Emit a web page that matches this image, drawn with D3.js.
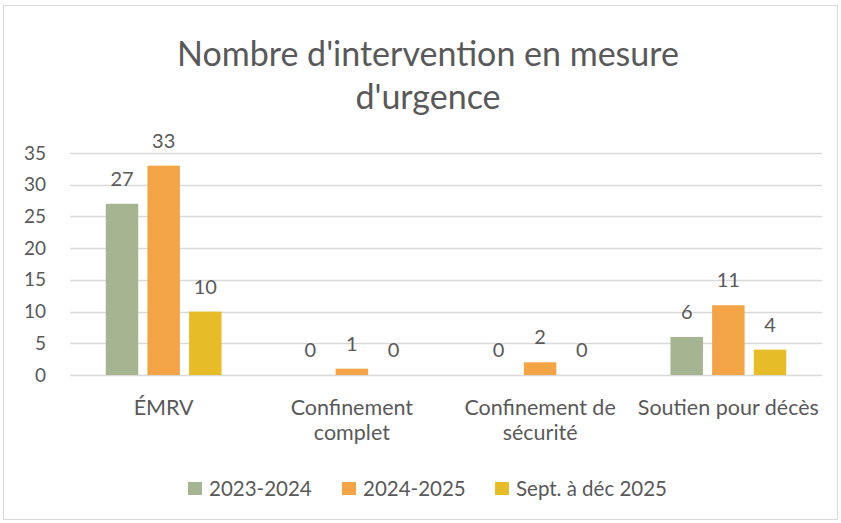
<!DOCTYPE html>
<html>
<head>
<meta charset="utf-8">
<script src="https://cdn.jsdelivr.net/npm/d3@7"></script>
<style>
  body { margin: 0; background: #fff; }
  text { font-family: Lato, "Open Sans", sans-serif; fill: #595959; }
</style>
</head>
<body>
<div id="chart"></div>
<script>
// data
var categories = ["ÉMRV", "Confinement complet", "Confinement de sécurité", "Soutien pour décès"];
var categoryLines = [["ÉMRV"], ["Confinement", "complet"], ["Confinement de", "sécurité"], ["Soutien pour décès"]];
var seriesNames = ["2023-2024", "2024-2025", "Sept. à déc 2025"];
var values2023 = [27, 0, 0, 6];
var values2024 = [33, 1, 2, 11];
var valuesSept2025 = [10, 0, 0, 4];
var yTicks = [0, 5, 10, 15, 20, 25, 30, 35];
var colors = ["#A5B592", "#F3A447", "#E7BC29"];

var allSeries = [values2023, values2024, valuesSept2025];

var width = 841, height = 523;
var margin = { top: 153, right: 19, bottom: 148, left: 70 };
var innerW = width - margin.left - margin.right;
var innerH = height - margin.top - margin.bottom;

var svg = d3.select("#chart").append("svg")
  .attr("width", width)
  .attr("height", height);

// outer border
svg.append("rect")
  .attr("x", 3.5).attr("y", 5.5)
  .attr("width", 834).attr("height", 514)
  .attr("fill", "#fff")
  .attr("stroke", "#D9D9D9");

// title
var title = svg.append("text")
  .attr("text-anchor", "middle")
  .style("font-size", "34px");
title.append("tspan").attr("x", 428).attr("y", 66).text("Nombre d'intervention en mesure");
title.append("tspan").attr("x", 428).attr("y", 109).text("d'urgence");

var g = svg.append("g")
  .attr("transform", "translate(" + margin.left + "," + margin.top + ")");

var x0 = d3.scaleBand().domain(categories).range([0, innerW]).paddingInner(0.385).paddingOuter(0.19);
var x1 = d3.scaleBand().domain(seriesNames).range([0, x0.bandwidth()]).paddingInner(0.22);
var y = d3.scaleLinear().domain([0, 35]).range([innerH, 0]);

// gridlines
g.selectAll(".grid")
  .data(yTicks)
  .enter().append("line")
  .attr("x1", 0).attr("x2", innerW)
  .attr("y1", function (d) { return Math.round(y(d)) + 0.5; })
  .attr("y2", function (d) { return Math.round(y(d)) + 0.5; })
  .attr("stroke", "#D9D9D9")
  .attr("stroke-width", 1.3);

// y axis labels
var yAxis = g.append("g")
  .call(d3.axisLeft(y).tickValues(yTicks).tickSize(0).tickPadding(24));
yAxis.select(".domain").remove();
yAxis.selectAll("text")
  .style("font-size", "19px")
  .attr("fill", "#595959");

// bars
var groups = g.selectAll(".cat")
  .data(categories)
  .enter().append("g")
  .attr("transform", function (d) { return "translate(" + x0(d) + ",0)"; });

groups.each(function (cat, ci) {
  var grp = d3.select(this);
  seriesNames.forEach(function (s, si) {
    var v = allSeries[si][ci];
    grp.append("rect")
      .attr("x", x1(s))
      .attr("y", y(v))
      .attr("width", x1.bandwidth())
      .attr("height", innerH - y(v))
      .attr("fill", colors[si]);
    grp.append("text")
      .attr("x", x1(s) + x1.bandwidth() / 2)
      .attr("y", y(v) - 18)
      .attr("text-anchor", "middle")
      .style("font-size", "20px")
      .text(v);
  });
});

// category labels
categories.forEach(function (c, ci) {
  var t = g.append("text")
    .attr("text-anchor", "middle")
    .style("font-size", "21.5px");
  categoryLines[ci].forEach(function (line, li) {
    t.append("tspan")
      .attr("x", x0(c) + x0.bandwidth() / 2)
      .attr("y", innerH + 40 + li * 25)
      .text(line);
  });
});

// legend
var legendX = [188, 342, 495];
var legend = svg.append("g");
seriesNames.forEach(function (s, i) {
  legend.append("rect")
    .attr("x", legendX[i]).attr("y", 482)
    .attr("width", 14).attr("height", 13)
    .attr("fill", colors[i]);
  legend.append("text")
    .attr("x", legendX[i] + 21).attr("y", 496)
    .style("font-size", "20.5px")
    .text(s);
});
</script>
</body>
</html>
